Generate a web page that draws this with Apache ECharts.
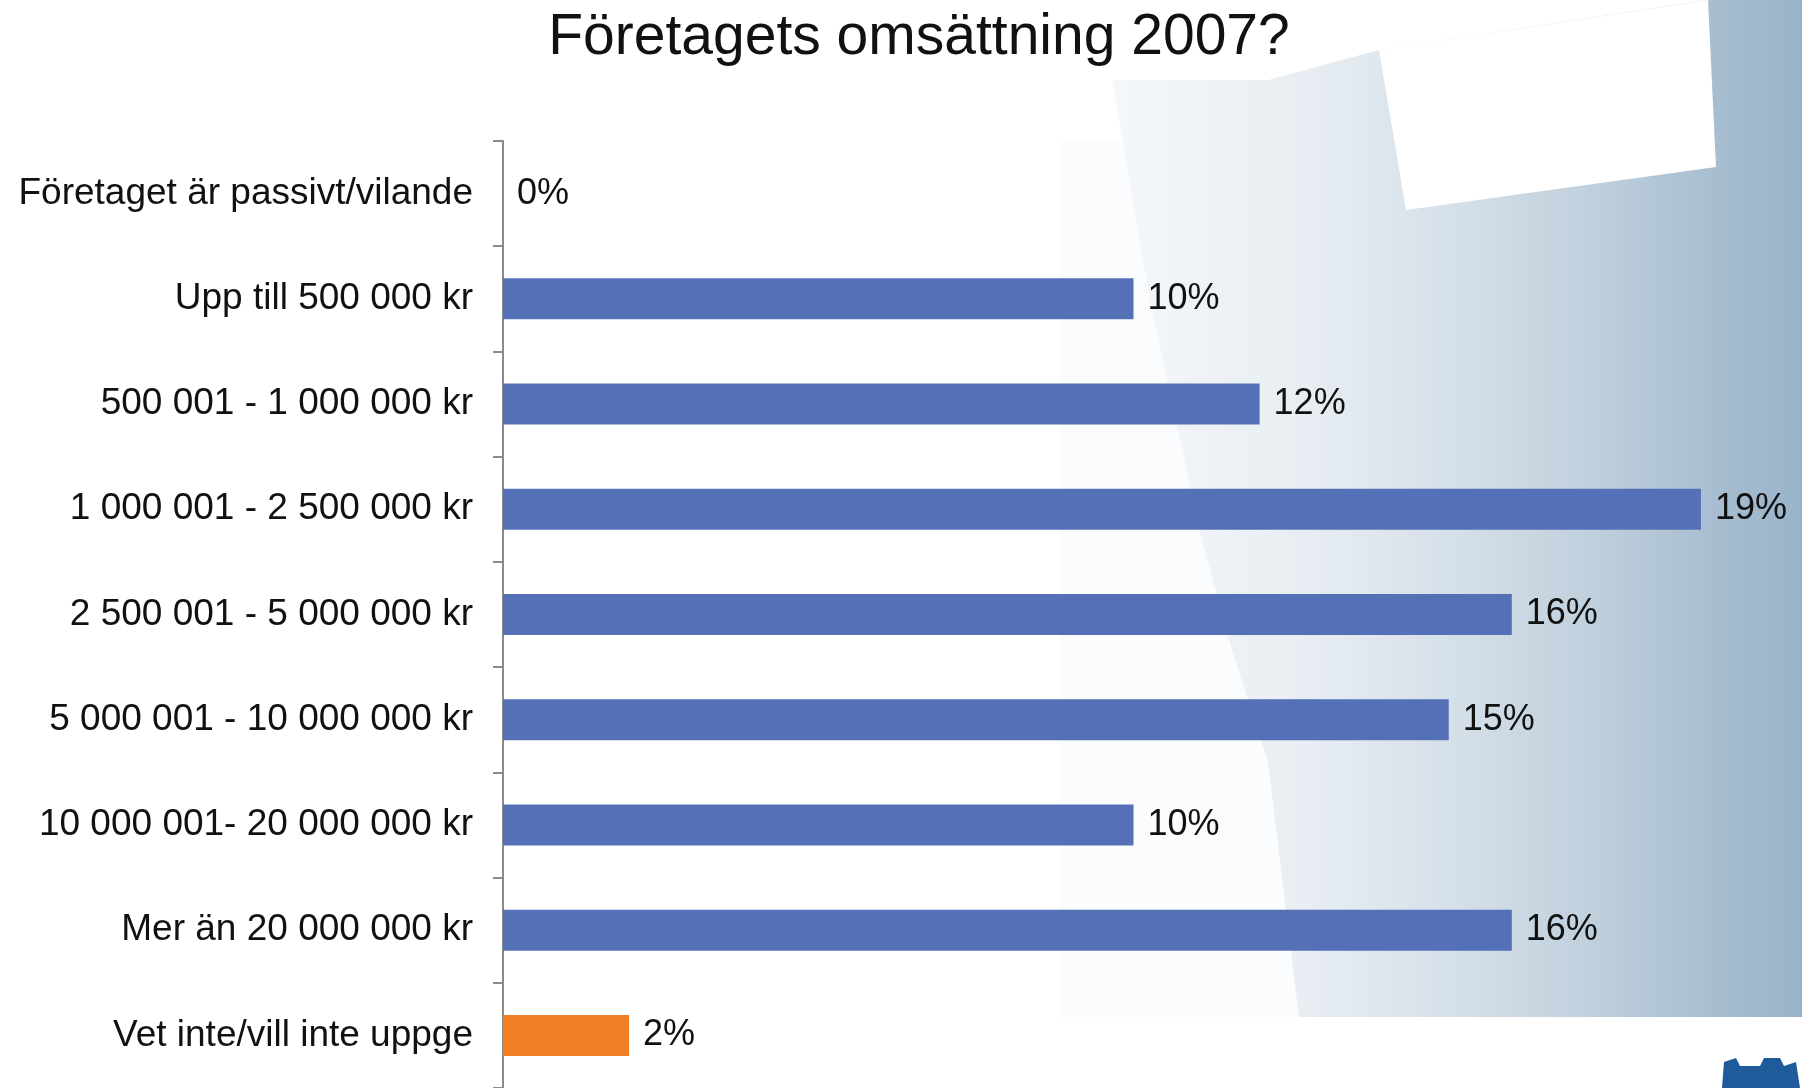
<!DOCTYPE html>
<html>
<head>
<meta charset="utf-8">
<script src="https://cdn.jsdelivr.net/npm/echarts@6/dist/echarts.min.js"></script>
<style>
html,body{margin:0;padding:0;background:#fff;}
#c{width:1802px;height:1088px;}
</style>
</head>
<body>
<div id="c"></div>
<script>
const titleText = 'Företagets omsättning 2007?';
const categories = [
  'Företaget är passivt/vilande',
  'Upp till 500 000 kr',
  '500 001 - 1 000 000 kr',
  '1 000 001 - 2 500 000 kr',
  '2 500 001 - 5 000 000 kr',
  '5 000 001 - 10 000 000 kr',
  '10 000 001- 20 000 000 kr',
  'Mer än 20 000 000 kr',
  'Vet inte/vill inte uppge'
];
const values = [0, 10, 12, 19, 16, 15, 10, 16, 2];
const barColors = ['#5471b8','#5471b8','#5471b8','#5471b8','#5471b8','#5471b8','#5471b8','#5471b8','#f07e24'];

const chart = echarts.init(document.getElementById('c'), null, {renderer:'canvas'});
const FONT = '"Liberation Sans", Arial, Helvetica, sans-serif';

const bgGrad = new echarts.graphic.LinearGradient(1100, 0, 1802, 0, [
  {offset: 0, color: '#f6f8fa'},
  {offset: 0.3, color: '#e7edf2'},
  {offset: 0.5, color: '#d6e0e9'},
  {offset: 0.72, color: '#bdcedb'},
  {offset: 0.86, color: '#aabfd1'},
  {offset: 1, color: '#98b3c9'}
], true);

chart.setOption({
  backgroundColor: '#ffffff',
  animation: false,
  title: {
    text: titleText,
    left: 914,
    top: 5,
    textAlign: 'center',
    textStyle: {fontFamily: FONT, fontSize: 57, fontWeight: 'normal', color: '#111'}
  },
  graphic: [
    {
      type: 'rect', z: -10, silent: true,
      shape: {x: 1061, y: 140, width: 300, height: 877},
      style: {fill: '#fbfcfd'}
    },
    {
      type: 'polygon', z: -9, silent: true,
      shape: {points: [[1112,80],[1268,80],[1379,50],[1708,0],[1802,0],[1802,1017],[1299,1017],[1268,762],[1232,650],[1201,537],[1150,300]]},
      style: {fill: bgGrad}
    },
    {
      type: 'polygon', z: -7, silent: true,
      shape: {points: [[1379,50],[1708,0],[1716,167],[1406,210]]},
      style: {fill: '#ffffff'}
    },
    {
      type: 'polygon', z: -7, silent: true,
      shape: {points: [[1722,1088],[1724,1062],[1736,1058],[1740,1066],[1760,1066],[1764,1058],[1780,1058],[1784,1066],[1796,1062],[1800,1088]]},
      style: {fill: '#1f5a9a'}
    }
  ],
  grid: {left: 503, right: 38, top: 141, bottom: -2, containLabel: false},
  xAxis: {
    type: 'value', min: 0, max: 20, show: false
  },
  yAxis: {
    type: 'category',
    data: categories,
    inverse: true,
    axisLine: {show: true, lineStyle: {color: '#8a8a8a', width: 2}},
    axisTick: {show: true, length: 10, lineStyle: {color: '#8a8a8a', width: 2}},
    axisLabel: {margin: 30, fontFamily: FONT, fontSize: 37, color: '#111'},
    splitLine: {show: false}
  },
  series: [{
    type: 'bar',
    data: values.map((v, i) => ({value: v, itemStyle: {color: barColors[i]}})),
    barWidth: 41,
    label: {
      show: true, position: 'right', distance: 14,
      formatter: p => p.value + '%',
      fontFamily: FONT, fontSize: 36, color: '#111'
    }
  }]
});
</script>
</body>
</html>
